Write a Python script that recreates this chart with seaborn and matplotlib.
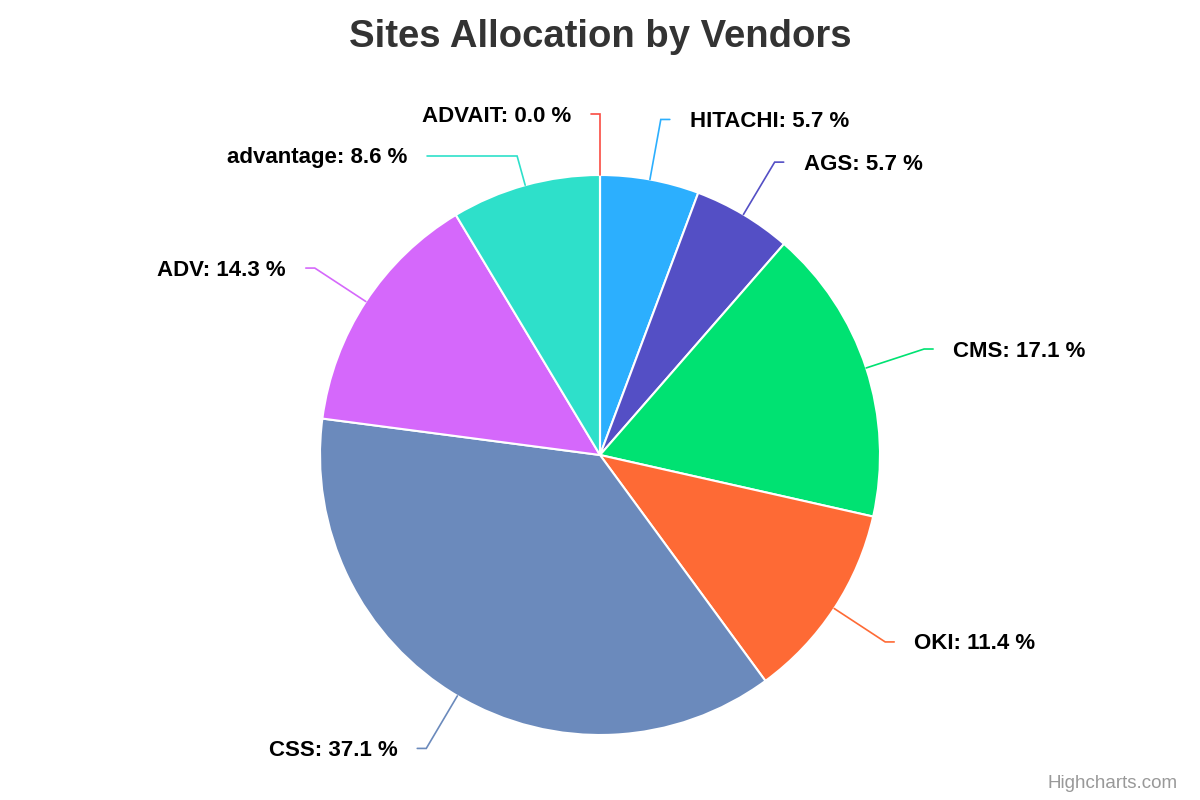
import numpy as np
import matplotlib
matplotlib.use("Agg")
import matplotlib.pyplot as plt
import seaborn as sns

# ── данные ──
vendors = ["HITACHI", "AGS", "CMS", "OKI", "CSS", "ADV", "advantage", "ADVAIT"]
shares = [5.7, 5.7, 17.1, 11.4, 37.1, 14.3, 8.6, 0.0]
colors = ["#2caffe", "#544fc5", "#00e272", "#fe6a35",
          "#6b8abc", "#d568fb", "#2ee0ca", "#fa4b42"]

sns.set_theme(style="white")
plt.rcParams["font.family"] = ["Liberation Sans", "DejaVu Sans"]

fig = plt.figure(figsize=(12, 8), dpi=100)
ax = fig.add_axes([0, 0, 1, 1])

center = (600, 345)
radius = 280
wedges, _ = ax.pie(shares, colors=sns.color_palette(colors), startangle=90,
                   counterclock=False, center=center, radius=radius,
                   wedgeprops=dict(edgecolor="white", linewidth=1.5,
                                   joinstyle="round"))
ax.set_xlim(0, 1200)
ax.set_ylim(0, 800)
ax.set_aspect("equal")
ax.axis("off")

# ── подписи с выносками ──
lab_r = radius + 61
labels = []
for w, name, val, col in zip(wedges, vendors, shares, colors):
    mid = np.deg2rad((w.theta1 + w.theta2) / 2)
    side = -1 if round(np.cos(mid), 6) <= 0 else 1
    labels.append(dict(name=name, val=val, col=col, mid=mid, side=side,
                       y=center[1] + lab_r * np.sin(mid)))

# раздвигаем подписи по вертикали
for side in (-1, 1):
    grp = sorted([l for l in labels if l["side"] == side], key=lambda l: -l["y"])
    for prev, cur in zip(grp, grp[1:]):
        if prev["y"] - cur["y"] < 42:
            cur["y"] = prev["y"] - 42

for l in labels:
    c, s = np.cos(l["mid"]), np.sin(l["mid"])
    x0, y0 = center[0] + radius * c, center[1] + radius * s
    y1 = l["y"]
    if abs(s) > 1e-6:
        t = (y1 - center[1]) / s
    else:
        t = lab_r
    x1 = center[0] + t * c
    dy = y1 - center[1]
    xc = center[0] + l["side"] * np.sqrt(max(lab_r ** 2 - dy ** 2, 0))
    if l["side"] < 0:
        x2 = min(x1, xc) - 9
    else:
        x2 = max(x1, xc) + 9
    ax.plot([x0, x1, x2], [y0, y1, y1], color=l["col"], lw=1.2,
            solid_joinstyle="miter")
    ax.text(x2 + l["side"] * 20, y1 - 2, f"{l['name']}: {l['val']:.1f} %",
            ha="left" if l["side"] > 0 else "right", va="center",
            fontsize=16, fontweight="bold", color="black")

fig.text(0.5, 1 - 37 / 800, "Sites Allocation by Vendors", ha="center",
         va="center", fontsize=27.5, fontweight="bold", color="#333333")
fig.text(1178 / 1200, 1 - 783 / 800, "Highcharts.com", ha="right",
         va="center", fontsize=13.5, color="#999999")

fig.savefig("out.png", dpi=100, facecolor="white")
